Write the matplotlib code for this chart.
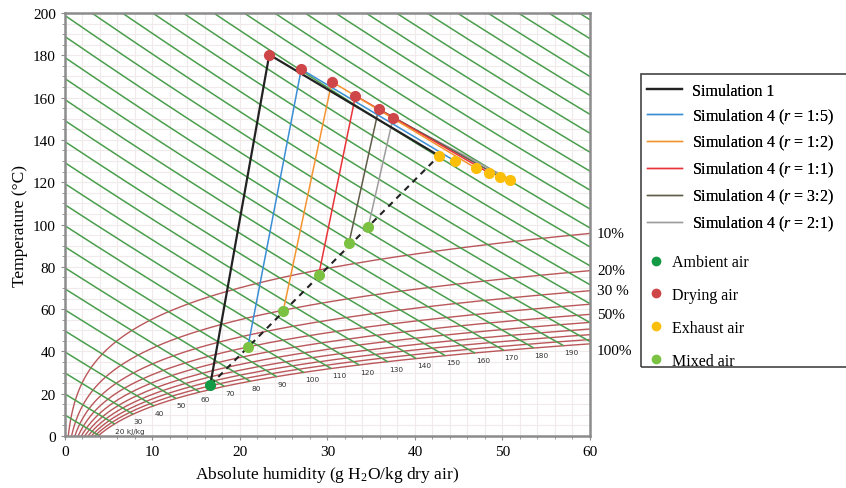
import numpy as np
import matplotlib.pyplot as plt
from matplotlib.lines import Line2D
from matplotlib.patches import Rectangle

plt.rcParams["font.family"] = ["Liberation Serif", "DejaVu Serif"]
plt.rcParams["mathtext.fontset"] = "custom"
plt.rcParams["mathtext.rm"] = "Liberation Serif"
plt.rcParams["mathtext.it"] = "Liberation Serif:italic"

# estados del aire (x en g/kg, T en grados C)
ambiente_x = 16.6
ambiente_T = 24.1
secado_x = [23.35, 27.0, 30.5, 33.2, 35.85, 37.5]
secado_T = [180.3, 173.4, 167.5, 160.9, 154.6, 150.5]
salida_x = [42.74, 44.57, 46.97, 48.5, 49.7, 50.9]
salida_T = [132.5, 130.0, 126.6, 124.3, 122.6, 121.2]
mezcla_x = [20.9, 24.95, 29.0, 32.46, 34.66]
mezcla_T = [42.1, 59.3, 76.3, 91.4, 99.0]

etiquetas = ["Simulation 1",
             "Simulation 4 ($r$ = 1:5)",
             "Simulation 4 ($r$ = 1:2)",
             "Simulation 4 ($r$ = 1:1)",
             "Simulation 4 ($r$ = 3:2)",
             "Simulation 4 ($r$ = 2:1)"]
colores = ["#222222", "#3a8ed4", "#f39431", "#e8333a", "#5f5c48", "#9d9d9d"]

# curvas del diagrama
humedades = [0.1, 0.2, 0.3, 0.4, 0.5, 0.6, 0.7, 0.8, 0.9, 1.0]
etiquetas_hr = {0.1: "10%", 0.2: "20%", 0.3: "30 %", 0.5: "50%", 1.0: "100%"}
entalpias = list(range(10, 380, 10))
P = 101.325


def psat(T):
    return 0.61094 * np.exp(17.625 * T / (T + 243.04))


fig = plt.figure(figsize=(8.46, 4.89), dpi=100)
ax = fig.add_axes([0.0768, 0.1063, 0.6206, 0.8651])

ax.set_xlim(0, 60)
ax.set_ylim(0, 200)
ax.set_xticks(range(0, 61, 10))
ax.set_yticks(range(0, 201, 20))
ax.set_xticks(np.arange(0, 61, 2), minor=True)
ax.set_yticks(np.arange(0, 201, 5), minor=True)
ax.grid(which="both", color="#f0eaea", lw=0.8)
ax.set_axisbelow(True)
for s in ax.spines.values():
    s.set_color("#8c8c8c")
    s.set_linewidth(1.8)
ax.tick_params(which="both", colors="#8c8c8c", length=3, labelcolor="black",
               labelsize=11)
ax.tick_params(which="minor", length=2)

# humedad relativa
T = np.linspace(0, 100, 800)
for phi in humedades:
    pw = phi * psat(T)
    ok = pw < 0.98 * P
    x = 622 * pw[ok] / (P - pw[ok])
    ax.plot(x, T[ok], color="#b9575a", lw=1.0, zorder=1)
    if phi in etiquetas_hr:
        Ti = np.interp(60, x, T[ok])
        dy = -5 if phi == 1.0 else 0
        ax.annotate(etiquetas_hr[phi], (60, Ti), xytext=(5, dy),
                    textcoords="offset points", va="center", ha="left",
                    fontsize=11, annotation_clip=False)

# entalpia
xs = np.linspace(0, 60, 600)
for h in entalpias:
    Th = (h - 2.501 * xs) / (1.006 + 0.00186 * xs)
    pw = psat(Th)
    xsat = np.where(pw < P, 622 * pw / np.maximum(P - pw, 1e-9), np.inf)
    ok = (xs <= xsat) & (Th > -5)
    ax.plot(xs[ok], Th[ok], color="#4a9e4d", lw=1.1, zorder=1)
    if 20 <= h <= 190:
        xe, Te = xs[ok][-1], Th[ok][-1]
        txt = "20 kJ/kg" if h == 20 else str(h)
        ax.annotate(txt, (xe, Te), xytext=(1, -3), textcoords="offset points",
                    ha="left", va="top", fontsize=5.3, color="#333333",
                    family="DejaVu Sans")

# linea de mezcla
ax.plot([ambiente_x, salida_x[0]], [ambiente_T, salida_T[0]],
        color="#222222", lw=1.5, ls=(0, (3, 2.5)), zorder=3)

# procesos
entrada_x = [ambiente_x] + mezcla_x
entrada_T = [ambiente_T] + mezcla_T
for i in range(6):
    lw = 1.6 if i == 0 else 1.1
    ax.plot([entrada_x[i], secado_x[i], salida_x[i]],
            [entrada_T[i], secado_T[i], salida_T[i]],
            color=colores[i], lw=lw, zorder=4 - i * 0.1)

ax.plot(mezcla_x, mezcla_T, "o", color="#7cc242", ms=7, zorder=5)
ax.plot(salida_x, salida_T, "o", color="#fbbf0a", ms=7, zorder=5)
ax.plot(secado_x, secado_T, "o", color="#cf4648", ms=7, zorder=5)
ax.plot(ambiente_x, ambiente_T, "o", color="#139a45", ms=7, zorder=5)

ax.set_xlabel("Absolute humidity (g H$_2$O/kg dry air)", fontsize=12.5)
ax.set_ylabel("Temperature (°C)", fontsize=12.5)

# leyenda
manejadores = [Line2D([], [], color=c, lw=1.6 if i == 0 else 1.0)
               for i, c in enumerate(colores)]
leg1 = fig.legend(manejadores, etiquetas, loc="upper left",
                  bbox_to_anchor=(0.765, 0.829), frameon=False,
                  fontsize=11.5, handlelength=2.2, handletextpad=0.6,
                  labelspacing=0.48, borderpad=0, borderaxespad=0)
puntos = [Line2D([], [], ls="", marker="o", color=c, ms=6)
          for c in ["#139a45", "#cf4648", "#fbbf0a", "#7cc242"]]
leg2 = fig.legend(puntos, ["Ambient air", "Drying air", "Exhaust air", "Mixed air"],
                  loc="upper left", bbox_to_anchor=(0.766, 0.478), frameon=False,
                  fontsize=11.5, handlelength=1.0, handletextpad=0.5,
                  labelspacing=1.05, borderpad=0, borderaxespad=0)
fig.add_artist(leg1)
fig.patches.append(Rectangle((0.7577, 0.2474), 0.3, 0.5992, transform=fig.transFigure,
                             fill=False, edgecolor="#444444", lw=1.2, figure=fig))

fig.savefig("out.png", dpi=100)
